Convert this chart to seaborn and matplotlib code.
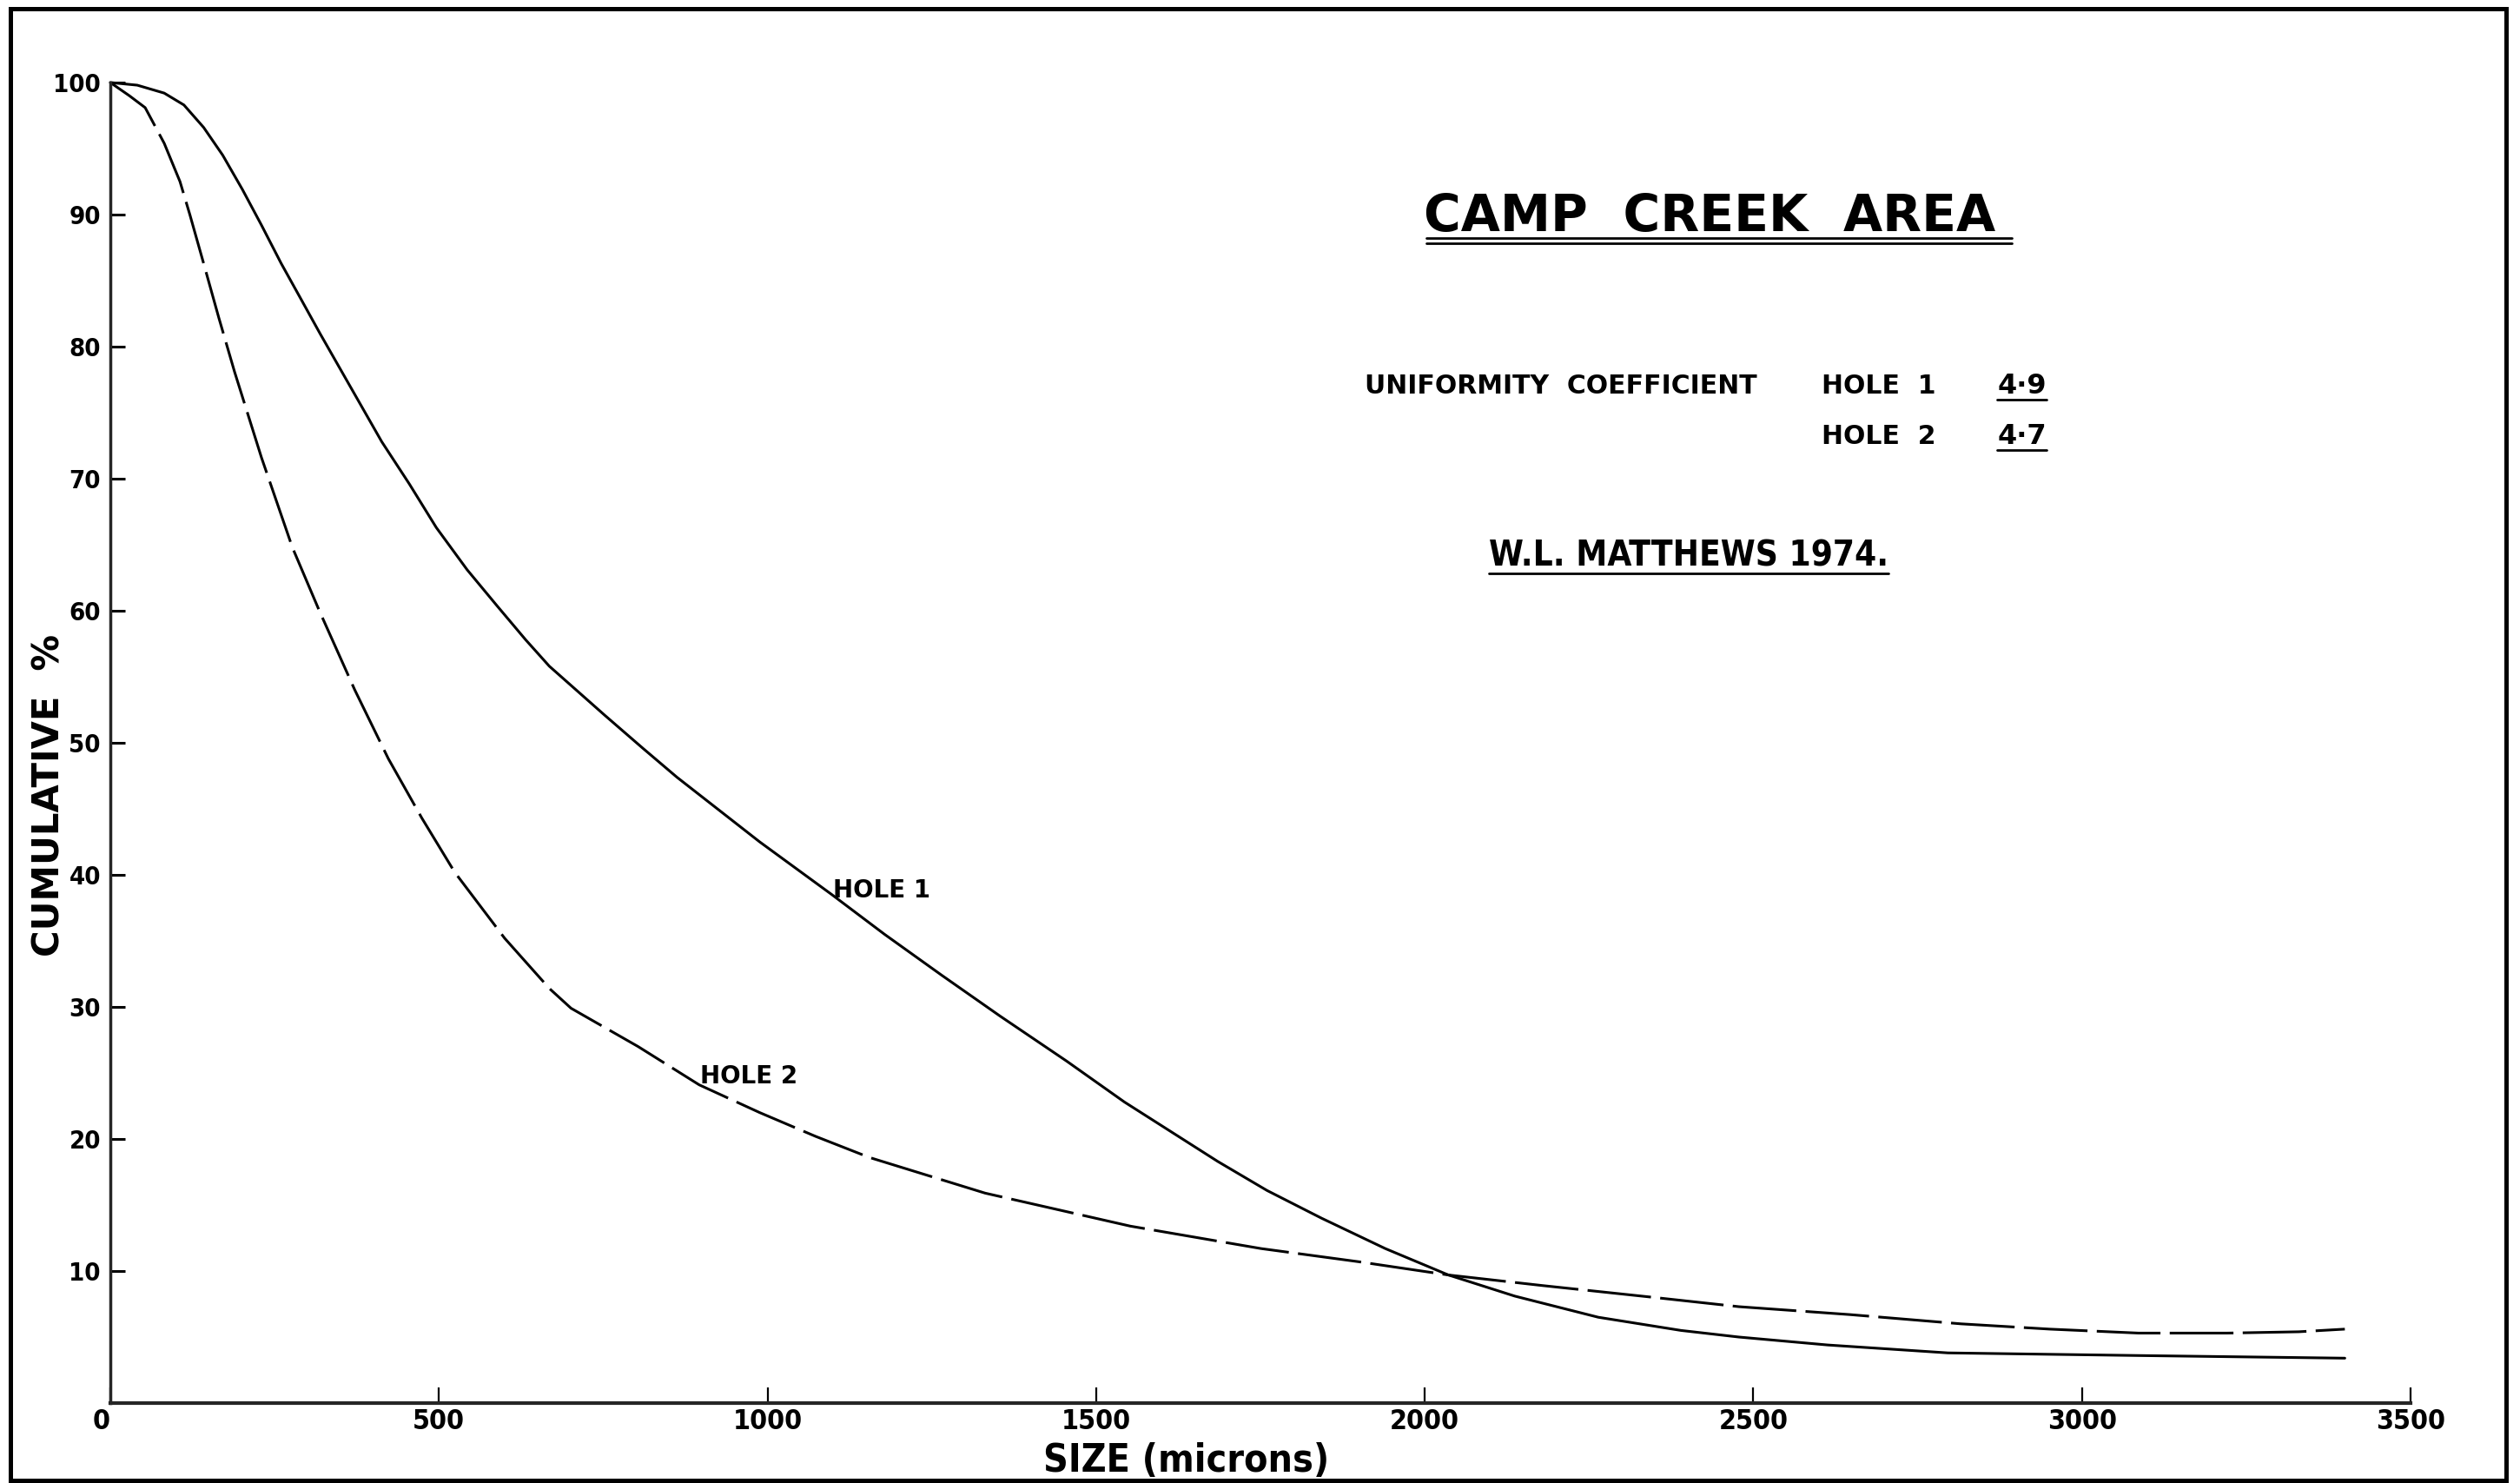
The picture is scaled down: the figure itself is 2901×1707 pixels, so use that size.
import matplotlib
matplotlib.use("Agg")
import matplotlib.pyplot as plt
from matplotlib.lines import Line2D
from matplotlib.patches import Rectangle
import pandas as pd
import seaborn as sns

# cumulative grain size curves, Camp Creek area
hole1_size = [0, 41, 82, 112, 142, 171, 201, 230, 260, 289, 319, 366, 413, 455, 496,
              543, 588, 632, 668, 752, 810, 862, 988, 1098, 1178, 1265, 1354, 1455,
              1543, 1685, 1760, 1843, 1940, 2036, 2137, 2264, 2390, 2478, 2613, 2796,
              3086, 3400]
hole1_pct = [100, 99.8, 99.2, 98.3, 96.6, 94.5, 91.9, 89.2, 86.3, 83.7, 81.0, 76.9,
             72.8, 69.6, 66.3, 63.1, 60.4, 57.8, 55.8, 52.1, 49.6, 47.4, 42.5, 38.5,
             35.5, 32.4, 29.3, 25.9, 22.8, 18.3, 16.1, 14.0, 11.7, 9.7, 8.1, 6.5, 5.5,
             5.0, 4.4, 3.8, 3.6, 3.4]

hole2_size = [0, 29, 53, 82, 106, 121, 142, 165, 189, 230, 277, 318, 372, 423, 474,
              524, 600, 668, 701, 803, 896, 988, 1073, 1155, 1331, 1552, 1751, 1900,
              2036, 2179, 2349, 2478, 2647, 2816, 2951, 3086, 3221, 3330, 3400]
hole2_pct = [100, 99.0, 98.1, 95.4, 92.5, 90.0, 86.3, 82.2, 78.1, 71.6, 64.8, 60.0,
             54.0, 48.8, 44.3, 40.2, 35.2, 31.4, 29.9, 27.0, 24.1, 22.0, 20.2, 18.6,
             15.9, 13.4, 11.7, 10.7, 9.7, 8.9, 8.0, 7.3, 6.7, 6.0, 5.6, 5.3, 5.3, 5.4,
             5.6]

x_ticks = [0, 500, 1000, 1500, 2000, 2500, 3000, 3500]
y_ticks = [10, 20, 30, 40, 50, 60, 70, 80, 90, 100]

title = "CAMP  CREEK  AREA"
coef_label = "UNIFORMITY  COEFFICIENT"
holes = ["HOLE  1", "HOLE  2"]
coefs = ["4·9", "4·7"]
author = "W.L. MATTHEWS 1974."

W, H = 2901, 1707


def fx(x):
    return x / W


def fy(y):
    return 1 - y / H


sns.set_style("ticks")
plt.rcParams["font.family"] = ["DejaVu Sans"]
plt.rcParams["font.weight"] = "bold"
plt.rcParams["text.color"] = "black"
plt.rcParams["xtick.color"] = "black"
plt.rcParams["ytick.color"] = "black"

df = pd.concat([
    pd.DataFrame({"size": hole1_size, "pct": hole1_pct, "hole": "HOLE 1"}),
    pd.DataFrame({"size": hole2_size, "pct": hole2_pct, "hole": "HOLE 2"}),
])

fig = plt.figure(figsize=(W / 100, H / 100), dpi=100, facecolor="white")
ax = fig.add_axes([fx(127), fy(1615), fx(2775) - fx(127), fy(95) - fy(1615)])

sns.lineplot(data=df, x="size", y="pct", style="hole",
             dashes={"HOLE 1": "", "HOLE 2": (24, 3.5)},
             color="black", linewidth=2.2, estimator=None, sort=False,
             legend=False, ax=ax)
for ln in ax.lines:
    ln.set_clip_on(False)
    ln.set_solid_joinstyle("round")
    ln.set_dash_joinstyle("round")

ax.set_xlim(0, 3500)
ax.set_ylim(0, 100)
sns.despine(ax=ax)
ax.spines["left"].set_linewidth(2.5)
ax.spines["bottom"].set_linewidth(3.0)
ax.set_facecolor("white")

ax.set_xticks(x_ticks)
ax.set_xticklabels([str(t) for t in x_ticks], fontsize=23, fontstretch="condensed",
                   fontweight="bold")
ax.set_yticks(y_ticks)
ax.set_yticklabels([str(t) for t in y_ticks], fontsize=21, fontstretch="condensed",
                   fontweight="bold")
ax.tick_params(axis="x", direction="in", length=13, width=1.6, pad=4)
ax.tick_params(axis="y", direction="in", length=12, width=2.2, pad=8)
ax.xaxis.get_majorticklabels()[0].set_ha("right")
ax.set_xlabel("")
ax.set_ylabel("")

# curve labels
ax.text(1100, 38.3, "HOLE 1", fontsize=20, va="baseline", ha="left")
ax.text(897, 24.2, "HOLE 2", fontsize=20, va="baseline", ha="left")

# axis titles
fig.text(fx(1366), fy(1682), "SIZE (microns)", fontsize=32, fontstretch="condensed",
         ha="center", va="center")
fig.text(fx(57), fy(915), "CUMULATIVE  %", fontsize=30, rotation=90,
         ha="center", va="center")

# title block
fig.text(fx(1639), fy(266), title, fontsize=42, va="baseline", ha="left")
for yy in (274, 280):
    fig.add_artist(Line2D([fx(1642), fx(2316)], [fy(yy), fy(yy)], color="black",
                          lw=2.0, transform=fig.transFigure))

fig.text(fx(1571), fy(453), coef_label, fontsize=21.5, va="baseline", ha="left")
for i, (h, c) in enumerate(zip(holes, coefs)):
    base = 453 + 58 * i
    fig.text(fx(2097), fy(base), h, fontsize=21.5, va="baseline", ha="left")
    fig.text(fx(2300), fy(base), c, fontsize=23, va="baseline", ha="left")
    fig.add_artist(Line2D([fx(2299), fx(2356)], [fy(base + 7), fy(base + 7)],
                          color="black", lw=2.0, transform=fig.transFigure))

fig.text(fx(1714), fy(651), author, fontsize=29, fontstretch="condensed",
         va="baseline", ha="left")
fig.add_artist(Line2D([fx(1714), fx(2174)], [fy(660), fy(660)], color="black",
                      lw=2.0, transform=fig.transFigure))

# drawing sheet border
fig.add_artist(Rectangle((fx(12), fy(1704)), fx(2885) - fx(12), fy(10) - fy(1704),
                         fill=False, edgecolor="black", lw=3.6,
                         transform=fig.transFigure))

fig.savefig("out.png", dpi=100, facecolor="white")
